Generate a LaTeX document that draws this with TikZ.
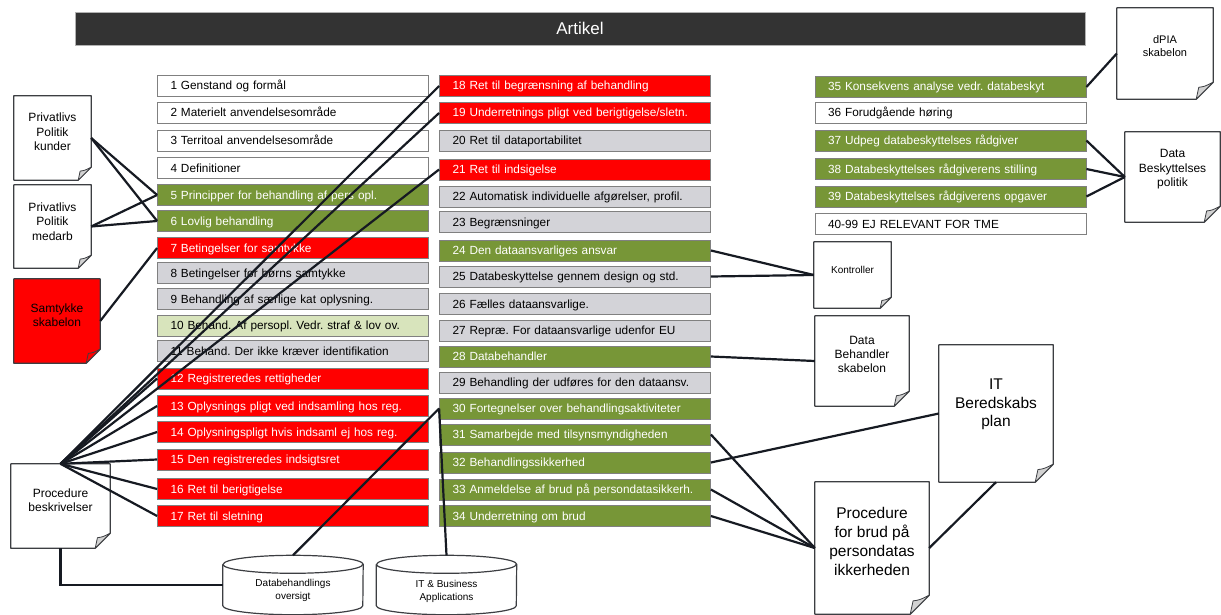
\documentclass[tikz,border=0pt]{standalone}
\usepackage{fontspec}
\setmainfont{Liberation Sans}
\frenchspacing

\definecolor{artgreen}{RGB}{119,150,55}
\definecolor{artred}{RGB}{255,0,0}
\definecolor{artgray}{RGB}{211,211,216}
\definecolor{artlight}{RGB}{216,228,188}
\definecolor{artdark}{RGB}{51,51,51}
\definecolor{boxline}{RGB}{128,128,128}
\definecolor{docline}{RGB}{60,62,66}
\definecolor{linkcol}{RGB}{22,26,34}

\begin{document}
\begin{tikzpicture}[x=1pt, y=-1pt,
  art/.style={draw=boxline, line width=0.8pt, minimum height=21pt, text width=245pt,
    inner xsep=13pt, inner ysep=0pt, align=left, text height=9.5pt, text depth=1.5pt,
    font=\fontsize{11.8}{13}\selectfont},
  wht/.style={art, fill=white},
  grn/.style={art, fill=artgreen, text=white},
  rd/.style={art, fill=artred, text=white},
  gry/.style={art, fill=artgray},
  lgr/.style={art, fill=artlight},
  docbox/.style={inner sep=0pt},
  dtext/.style={align=center, inner sep=0pt, font=\fontsize{12}{14.5}\selectfont},
  cyl/.style={inner sep=0pt, minimum width=140pt, minimum height=59pt},
  ctext/.style={align=center, inner sep=0pt, font=\fontsize{10}{13}\selectfont},
  link/.style={draw=linkcol, line width=2.2pt}]
\useasboundingbox (0,0) rectangle (1221,615);

\node [fill=artdark, draw=gray!60, minimum width=1010pt, minimum height=33pt,
  text=white, font=\fontsize{17}{20}\selectfont] (title) at (580,28.5) {Artikel};

\node [docbox, minimum width=77pt, minimum height=84pt] (pkunder) at (52.5,138) {};
\node [dtext] (pkundert) at ([yshift=6pt]pkunder.center) {Privatlivs\\Politik\\kunder};
\node [docbox, minimum width=77pt, minimum height=83pt] (pmedarb) at (52.5,226.5) {};
\node [dtext] (pmedarbt) at ([yshift=5pt]pmedarb.center) {Privatlivs\\Politik\\medarb};
\node [docbox, fill=artred, minimum width=86pt, minimum height=84pt] (samtykke) at (57,321) {};
\node [dtext] (samtykket) at ([yshift=6pt]samtykke.center) {Samtykke\\skabelon};
\node [docbox, minimum width=99pt, minimum height=84pt] (procbeskr) at (60.5,506) {};
\node [dtext] (procbeskrt) at ([yshift=6pt]procbeskr.center) {Procedure\\beskrivelser};
\node [docbox, minimum width=96pt, minimum height=91pt] (dpia) at (1165,53.5) {};
\node [dtext, font=\fontsize{11}{13}\selectfont] (dpiat) at ([yshift=7pt]dpia.center) {dPIA\\skabelon};
\node [docbox, minimum width=95pt, minimum height=90pt] (dbpolitik) at (1172.5,177) {};
\node [dtext] (dbpolitikt) at ([yshift=7.5pt]dbpolitik.center) {Data\\Beskyttelses\\politik};
\node [docbox, minimum width=77pt, minimum height=66pt] (kontroller) at (852.5,275) {};
\node [dtext, font=\fontsize{10}{12}\selectfont] (kontrollert) at ([yshift=5pt]kontroller.center) {Kontroller};
\node [docbox, minimum width=94pt, minimum height=90pt] (dbskabelon) at (862,361) {};
\node [dtext, font=\fontsize{12}{14}\selectfont] (dbskabelont) at ([yshift=7pt]dbskabelon.center) {Data\\Behandler\\skabelon};
\node [docbox, minimum width=114pt, minimum height=137pt] (itplan) at (996,413.5) {};
\node [dtext, font=\fontsize{15.5}{18.5}\selectfont] (itplant) at ([yshift=9pt]itplan.center) {IT\\Beredskabs\\plan};
\node [docbox, minimum width=114pt, minimum height=132pt] (procbrud) at (872,548) {};
\node [dtext, font=\fontsize{15.5}{19}\selectfont] (procbrudt) at ([yshift=7pt]procbrud.center) {Procedure\\for brud på\\persondatas\\ikkerheden};

\foreach \d/\f/\c in {pkunder/13/gray!35, pmedarb/13/gray!35, samtykke/14/artred,
    procbeskr/15/gray!35, dpia/17/gray!35, dbpolitik/16/gray!35, kontroller/11/gray!35,
    dbskabelon/15/gray!35, itplan/18/gray!35, procbrud/19/gray!35} {
  \fill [white] (\d.south east) -- ([yshift=\f pt]\d.south east) -- ([xshift=-\f pt]\d.south east) -- cycle;
  \draw [docline, line width=1.2pt, line join=round] (\d.north west) -- (\d.north east)
    -- ([yshift=\f pt]\d.south east) -- ([xshift=-\f pt]\d.south east) -- (\d.south west) -- cycle;
  \filldraw [fill=\c, draw=docline, line width=0.8pt, line join=round] ([yshift=\f pt]\d.south east)
    .. controls ([xshift={-0.5*\f*1pt}, yshift={0.75*\f*1pt}]\d.south east) .. ([xshift={-0.85*\f*1pt}, yshift={0.7*\f*1pt}]\d.south east)
    -- ([xshift=-\f pt]\d.south east) -- cycle;
}

\node [cyl] (dbover) at (293,585) {};
\node [cyl] (itapps) at (446.5,585) {};
\foreach \c in {dbover, itapps} {
  \filldraw [fill=white, draw=docline, line width=1.2pt] ([yshift=-9pt]\c.north west) -- ([yshift=9pt]\c.south west)
    arc [start angle=180, end angle=360, x radius=70pt, y radius=9pt]
    -- ([yshift=-9pt]\c.north east)
    arc [start angle=0, end angle=180, x radius=70pt, y radius=9pt];
  \draw [docline, line width=1.2pt] ([yshift=-9pt]\c.north west)
    arc [start angle=180, end angle=360, x radius=70pt, y radius=9pt];
}
\node [ctext] (dbovert) at ([yshift=-5.5pt]dbover.center) {Databehandlings\\oversigt};
\node [ctext] (itappst) at ([yshift=-6pt]itapps.center) {IT \& Business\\Applications};

\node [wht] (a1) at (293,86) {1 Genstand og formål};
\node [wht] (a2) at (293,113) {2 Materielt anvendelsesområde};
\node [wht] (a3) at (293,141) {3 Territoal anvendelsesområde};
\node [wht] (a4) at (293,168) {4 Definitioner};
\node [grn] (a5) at (293,195) {5 Principper for behandling af pers opl.};
\node [grn] (a6) at (293,221) {6 Lovlig behandling};
\node [rd] (a7) at (293,248) {7 Betingelser for samtykke};
\node [gry] (a8) at (293,273) {8 Betingelser for børns samtykke};
\node [gry] (a9) at (293,299) {9 Behandling af særlige kat oplysning.};
\node [lgr] (a10) at (293,325.5) {10 Behand. Af persopl. Vedr. straf \& lov ov.};
\node [gry] (a11) at (293,351) {11 Behand. Der ikke kræver identifikation};
\node [rd] (a12) at (293,378.5) {12 Registreredes rettigheder};
\node [rd] (a13) at (293,406) {13 Oplysnings pligt ved indsamling hos reg.};
\node [rd] (a14) at (293,432) {14 Oplysningspligt hvis indsaml ej hos reg.};
\node [rd] (a15) at (293,459.5) {15 Den registreredes indsigtsret};
\node [rd] (a16) at (293,489) {16 Ret til berigtigelse};
\node [rd] (a17) at (293,516) {17 Ret til sletning};

\node [rd] (a18) at (575,86) {18 Ret til begrænsning af behandling};
\node [rd] (a19) at (575,113) {19 Underretnings pligt ved berigtigelse/sletn.};
\node [gry] (a20) at (575,141) {20 Ret til dataportabilitet};
\node [rd] (a21) at (575,169.5) {21 Ret til indsigelse};
\node [gry] (a22) at (575,196.5) {22 Automatisk individuelle afgørelser, profil.};
\node [gry] (a23) at (575,222) {23 Begrænsninger};
\node [grn] (a24) at (575,250.5) {24 Den dataansvarliges ansvar};
\node [gry] (a25) at (575,276.5) {25 Databeskyttelse gennem design og std.};
\node [gry] (a26) at (575,304) {26 Fælles dataansvarlige.};
\node [gry] (a27) at (575,330.5) {27 Repræ. For dataansvarlige udenfor EU};
\node [grn] (a28) at (575,356.5) {28 Databehandler};
\node [gry] (a29) at (575,382.5) {29 Behandling der udføres for den dataansv.};
\node [grn] (a30) at (575,408.5) {30 Fortegnelser over behandlingsaktiviteter};
\node [grn] (a31) at (575,434.5) {31 Samarbejde med tilsynsmyndigheden};
\node [grn] (a32) at (575,462.5) {32 Behandlingssikkerhed};
\node [grn] (a33) at (575,489.5) {33 Anmeldelse af brud på persondatasikkerh.};
\node [grn] (a34) at (575,516) {34 Underretning om brud};

\node [grn] (a35) at (950.5,87) {35 Konsekvens analyse vedr. databeskyt};
\node [wht] (a36) at (950.5,113) {36 Forudgående høring};
\node [grn] (a37) at (950.5,140.5) {37 Udpeg databeskyttelses rådgiver};
\node [grn] (a38) at (950.5,169) {38 Databeskyttelses rådgiverens stilling};
\node [grn] (a39) at (950.5,196.5) {39 Databeskyttelses rådgiverens opgaver};
\node [wht] (a40) at (950.5,224) {40-99 EJ RELEVANT FOR TME};

\draw [link] (pkunder.east) -- (a5.west);
\draw [link] (pkunder.east) -- (a6.west);
\draw [link] (pmedarb.east) -- (a5.west);
\draw [link] (pmedarb.east) -- (a6.west);
\draw [link] (samtykke.east) -- (a7.west);
\foreach \r in {a12, a13, a14, a15, a16, a17, a18, a19, a21}
  \draw [link] (procbeskr.north) -- (\r.west);
\draw [link] (procbeskr.south) |- (dbover.west);
\draw [link] (dbover.north) -- (a30.west);
\draw [link] (itapps.north) -- (a30.west);
\draw [link] (a24.east) -- (kontroller.west);
\draw [link] (a25.east) -- (kontroller.west);
\draw [link] (a28.east) -- (dbskabelon.west);
\draw [link] (a32.east) -- (itplan.west);
\draw [link] (a31.east) -- (procbrud.west);
\draw [link] (a33.east) -- (procbrud.west);
\draw [link] (a34.east) -- (procbrud.west);
\draw [link] (itplan.south) -- (procbrud.east);
\draw [link] (a35.east) -- (dpia.west);
\draw [link] (a37.east) -- (dbpolitik.west);
\draw [link] (a38.east) -- (dbpolitik.west);
\draw [link] (a39.east) -- (dbpolitik.west);
\end{tikzpicture}
\end{document}
